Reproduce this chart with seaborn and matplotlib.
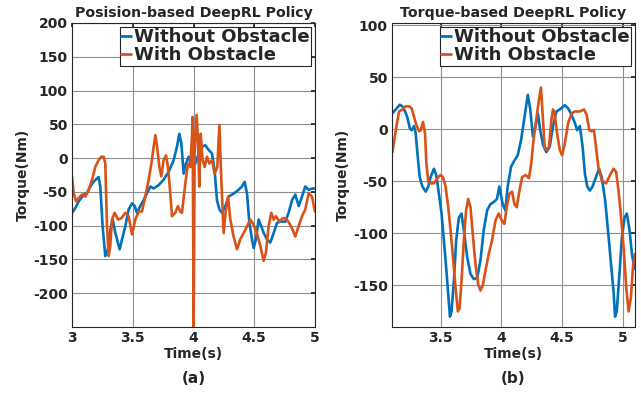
import pandas as pd
import seaborn as sns
import matplotlib.pyplot as plt
from matplotlib.lines import Line2D

sns.set_theme(style="whitegrid")
plt.rcParams['font.family'] = ['DejaVu Sans']
plt.rcParams['font.weight'] = 'bold'
plt.rcParams['axes.labelweight'] = 'bold'
plt.rcParams['axes.titleweight'] = 'bold'

# ---- (a) position-based policy ----
t_pos_free = [3.000, 3.027, 3.055, 3.096, 3.123, 3.151, 3.178, 3.206, 3.219, 3.233,
              3.252, 3.274, 3.296, 3.316, 3.335, 3.357, 3.392, 3.412, 3.439, 3.466,
              3.494, 3.516, 3.535, 3.562, 3.590, 3.617, 3.645, 3.672, 3.713, 3.754,
              3.796, 3.837, 3.864, 3.883, 3.900, 3.919, 3.938, 3.960, 3.988, 4.015,
              4.043, 4.070, 4.097, 4.125, 4.152, 4.174, 4.193, 4.213, 4.235, 4.262,
              4.289, 4.317, 4.358, 4.399, 4.421, 4.440, 4.460, 4.481, 4.495, 4.514,
              4.536, 4.558, 4.578, 4.605, 4.632, 4.660, 4.687, 4.715, 4.756, 4.783,
              4.811, 4.838, 4.866, 4.893, 4.920, 4.948, 4.975, 5.000]
tq_pos_free = [-81, -74, -64, -54, -52, -42, -35, -30, -28, -42,
               -101, -145, -135, -106, -91, -111, -135, -120, -101, -76,
               -67, -71, -81, -71, -62, -52, -42, -45, -40, -32,
               -20, -3, 17, 36, 22, -23, -8, 2, -13, -8,
               7, 17, 19, 12, 7, -18, -62, -76, -81, -71,
               -57, -54, -49, -42, -35, -52, -96, -120, -133, -120,
               -91, -101, -111, -120, -125, -111, -96, -94, -94, -81,
               -62, -54, -71, -57, -42, -47, -45, -45]

t_pos_obs = [3.000, 3.014, 3.033, 3.055, 3.082, 3.110, 3.137, 3.165, 3.192, 3.219,
             3.241, 3.261, 3.274, 3.288, 3.302, 3.315, 3.329, 3.351, 3.379, 3.406,
             3.439, 3.466, 3.494, 3.521, 3.549, 3.576, 3.603, 3.631, 3.658, 3.672,
             3.686, 3.700, 3.719, 3.735, 3.754, 3.774, 3.790, 3.809, 3.823, 3.850,
             3.872, 3.891, 3.905, 3.933, 3.955, 3.974, 3.987, 3.993, 4.001, 4.009,
             4.026, 4.037, 4.048, 4.059, 4.075, 4.092, 4.111, 4.130, 4.152, 4.174,
             4.196, 4.213, 4.229, 4.248, 4.267, 4.284, 4.303, 4.330, 4.358, 4.385,
             4.413, 4.440, 4.468, 4.495, 4.522, 4.550, 4.577, 4.596, 4.618, 4.640,
             4.660, 4.679, 4.706, 4.734, 4.761, 4.788, 4.816, 4.838, 4.865, 4.893,
             4.920, 4.948, 4.975, 5.000]
tq_pos_obs = [-27, -52, -64, -59, -54, -57, -47, -32, -13, -3,
              2, 2, -8, -101, -145, -130, -91, -81, -91, -89,
              -81, -86, -113, -91, -79, -79, -57, -32, -3, 17,
              34, 17, -13, -27, -3, 4, -13, -52, -86, -81,
              -71, -79, -81, -37, -8, -13, 31, 61, -260, 7,
              64, 26, -42, 36, -3, -13, 2, -8, -3, -23,
              -13, 49, -32, -111, -76, -57, -91, -116, -135, -120,
              -111, -101, -91, -99, -111, -130, -152, -140, -101, -81,
              -91, -86, -94, -89, -89, -96, -106, -116, -101, -86,
              -76, -52, -57, -79]

# ---- (b) torque-based policy ----
t_trq_free = [3.104, 3.131, 3.164, 3.186, 3.208, 3.227, 3.246, 3.262, 3.281, 3.295,
              3.309, 3.328, 3.350, 3.377, 3.399, 3.418, 3.445, 3.464, 3.486, 3.508,
              3.527, 3.546, 3.563, 3.577, 3.590, 3.609, 3.628, 3.650, 3.672, 3.691,
              3.719, 3.746, 3.773, 3.801, 3.828, 3.855, 3.883, 3.910, 3.937, 3.964,
              3.983, 4.011, 4.033, 4.052, 4.080, 4.108, 4.135, 4.163, 4.191, 4.218,
              4.238, 4.260, 4.282, 4.301, 4.320, 4.343, 4.370, 4.398, 4.425, 4.453,
              4.481, 4.522, 4.550, 4.577, 4.605, 4.624, 4.646, 4.669, 4.688, 4.707,
              4.729, 4.751, 4.779, 4.804, 4.826, 4.854, 4.881, 4.903, 4.923, 4.936,
              4.950, 4.972, 4.992, 5.014, 5.033, 5.055, 5.075, 5.094, 5.110]
tq_trq_free = [15.5, 19, 23.5, 22, 17, 11, 1, -1, 3, -4,
               -23, -46, -55, -60, -55, -46, -38, -44, -62, -81,
               -107, -133, -159, -180, -175, -146, -107, -85, -81, -97,
               -123, -139, -144, -143, -126, -97, -78, -72, -70, -67,
               -55, -72, -78, -55, -36, -30, -25, -10, 12, 33,
               19, -7, 3, 15, -1, -15, -22, -17, 3, 17,
               19, 23, 20, 14, 6, -1, 3, -17, -43, -55,
               -59, -55, -46, -38, -46, -68, -101, -130, -155, -180,
               -175, -139, -104, -85, -81, -97, -120, -133, -135]

t_trq_obs = [3.104, 3.117, 3.137, 3.158, 3.186, 3.213, 3.240, 3.262, 3.281, 3.301,
             3.322, 3.336, 3.355, 3.372, 3.383, 3.399, 3.418, 3.445, 3.473, 3.500,
             3.519, 3.541, 3.563, 3.582, 3.604, 3.623, 3.642, 3.656, 3.672, 3.691,
             3.710, 3.727, 3.746, 3.765, 3.787, 3.809, 3.828, 3.847, 3.869, 3.896,
             3.923, 3.951, 3.978,
             4.005, 4.025, 4.044, 4.066, 4.088, 4.108, 4.127, 4.149, 4.171, 4.199,
             4.227, 4.246, 4.265, 4.287, 4.309, 4.326, 4.343, 4.356, 4.376, 4.392,
             4.412, 4.425, 4.439, 4.459, 4.481, 4.500, 4.522, 4.550, 4.577, 4.605,
             4.646, 4.680, 4.702, 4.724, 4.743, 4.762, 4.779, 4.798, 4.826, 4.862,
             4.895, 4.923, 4.945, 4.964, 4.983, 5.006, 5.028, 5.047, 5.066, 5.083,
             5.099]
tq_trq_obs = [-22, -12, 3, 17, 19, 22, 22, 20, 12, 4,
              -2, -1, 7, -4, -33, -51, -52, -52, -47, -44,
              -46, -55, -75, -97, -126, -152, -175, -172, -146, -107,
              -78, -67, -75, -101, -130, -149, -155, -150, -136, -120,
              -107, -88, -81,
              -88, -91, -75, -62, -60, -72, -75, -59, -46, -44,
              -47, -33, -10, 9, 28, 40, 9, -17, -20, -17,
              9, 19, 15, -4, -20, -25, -14, 6, 15, 17,
              17, 19, 14, -1, -2, -1, -17, -36, -49, -52,
              -44, -38, -41, -59, -81, -113, -152, -175, -162, -133,
              -120]

labels = ['Without Obstacle', 'With Obstacle']
colors = ['#0072BD', '#D95319']


def make_df(t_free, tq_free, t_obs, tq_obs):
    a = pd.DataFrame({'Time': t_free, 'Torque': tq_free, 'Case': labels[0]})
    b = pd.DataFrame({'Time': t_obs, 'Torque': tq_obs, 'Case': labels[1]})
    return pd.concat([a, b], ignore_index=True)


df_pos = make_df(t_pos_free, tq_pos_free, t_pos_obs, tq_pos_obs)
df_trq = make_df(t_trq_free, tq_trq_free, t_trq_obs, tq_trq_obs)

fig, axes = plt.subplots(1, 2, figsize=(6.41, 3.93), dpi=100)
axes[0].set_position([72 / 641, 66 / 393, 243 / 641, 304 / 393])
axes[1].set_position([392 / 641, 66 / 393, 243 / 641, 304 / 393])

panels = [
    (axes[0], df_pos, 'Posision-based DeepRL Policy', (3, 5), (-250, 200),
     [3, 3.5, 4, 4.5, 5], ['3', '3.5', '4', '4.5', '5'],
     [-200, -150, -100, -50, 0, 50, 100, 150, 200], '(a)'),
    (axes[1], df_trq, 'Torque-based DeepRL Policy', (3.1, 5.1), (-190, 102),
     [3.5, 4, 4.5, 5], ['3.5', '4', '4.5', '5'],
     [-150, -100, -50, 0, 50, 100], '(b)'),
]

for ax, df, title, xl, yl, xt, xtl, yt, tag in panels:
    sns.lineplot(data=df, x='Time', y='Torque', hue='Case', hue_order=labels,
                 palette=colors, estimator=None, sort=False, linewidth=1.9,
                 ax=ax, legend=False)
    ax.set_xlim(*xl)
    ax.set_ylim(*yl)
    ax.set_xticks(xt)
    ax.set_xticklabels(xtl)
    ax.set_yticks(yt)
    ax.set_yticklabels([str(v) for v in yt])
    ax.set_title(title, fontsize=10.2, pad=4)
    ax.set_xlabel('Time(s)', fontsize=10, labelpad=1)
    ax.set_ylabel('Torque(Nm)', fontsize=10, labelpad=2)
    ax.tick_params(labelsize=10, colors='#262626', direction='in', length=3,
                   top=True, right=True, pad=3)
    ax.grid(True, color='#8f8f8f', linewidth=0.8)
    for s in ax.spines.values():
        s.set_color('#262626')
        s.set_linewidth(0.8)
    handles = [Line2D([], [], color=c, linewidth=2) for c in colors]
    leg = ax.legend(handles, labels, loc='upper right', fontsize=13,
                    frameon=True, fancybox=False, framealpha=1,
                    edgecolor='#262626', borderaxespad=0.2, borderpad=0.1,
                    handlelength=0.55, handletextpad=0.15, labelspacing=0.0)
    leg.get_frame().set_linewidth(0.8)
    pos = ax.get_position()
    fig.text((pos.x0 + pos.x1) / 2, 0.038, tag, ha='center', va='center',
             fontsize=11, fontweight='bold', color='#262626')

fig.savefig('out.png', dpi=100)
